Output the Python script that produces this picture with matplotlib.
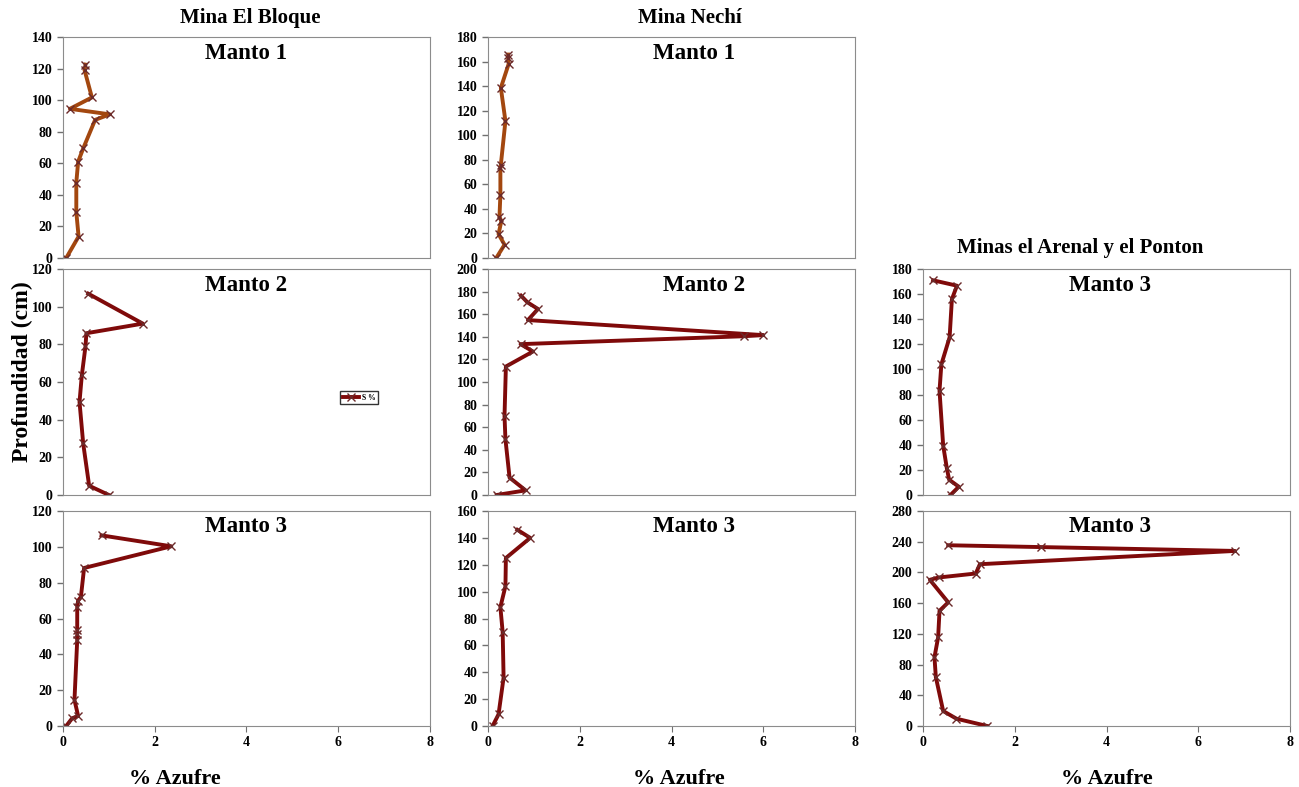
import matplotlib.pyplot as plt

plt.rcParams['font.family'] = ['Liberation Serif', 'DejaVu Serif']
plt.rcParams['font.weight'] = 'bold'

# Mina El Bloque
bloque_m1_s = [0.07, 0.34, 0.29, 0.29, 0.33, 0.44, 0.70, 1.02, 0.15, 0.63, 0.47, 0.49]
bloque_m1_d = [0, 13.6, 29, 47.8, 61, 69.4, 87.5, 91, 94.5, 101.7, 119, 122.5]
bloque_m2_s = [1.0, 0.57, 0.44, 0.36, 0.41, 0.49, 0.51, 1.74, 0.55]
bloque_m2_d = [0, 4.9, 27.4, 49.4, 63.5, 78.9, 85.9, 91, 106.9]
bloque_m3_s = [0.07, 0.20, 0.33, 0.25, 0.31, 0.31, 0.31, 0.31, 0.33, 0.39, 0.46, 2.36, 0.84]
bloque_m3_d = [0, 4.3, 5.6, 14.5, 48, 51.6, 53.5, 66.5, 70, 72, 88.2, 100.3, 106.4]

# Mina Nechi
nechi_m1_s = [0.18, 0.36, 0.23, 0.29, 0.25, 0.27, 0.27, 0.28, 0.38, 0.28, 0.45, 0.44, 0.44]
nechi_m1_d = [0, 10.8, 19.5, 30, 33.6, 51.4, 73.6, 76, 111.5, 138.6, 158, 163, 165.7]
nechi_m2_s = [0.19, 0.82, 0.47, 0.38, 0.36, 0.39, 0.98, 0.71, 5.58, 6.0, 0.87, 1.09, 0.86, 0.72]
nechi_m2_d = [0, 4.1, 15.4, 49.3, 70, 113.7, 127, 133.5, 140.5, 141.5, 154.8, 164.6, 170.5, 176.4]
nechi_m3_s = [0.10, 0.23, 0.34, 0.32, 0.27, 0.38, 0.39, 0.92, 0.64]
nechi_m3_d = [0, 8.7, 36, 69.8, 88.5, 104, 125, 140, 146]

# Minas el Arenal y el Ponton
arenal_a_s = [0.60, 0.78, 0.57, 0.52, 0.44, 0.36, 0.40, 0.58, 0.63, 0.74, 0.22]
arenal_a_d = [0, 6.6, 12.2, 21.2, 39.3, 83, 104, 125.6, 156, 166.7, 171]
arenal_b_s = [1.40, 0.73, 0.44, 0.28, 0.25, 0.33, 0.36, 0.55, 0.15, 0.34, 1.15, 1.24, 6.80, 2.58, 0.55]
arenal_b_d = [0, 9.5, 19.5, 63.6, 89.6, 115.5, 150, 161, 190.4, 193.4, 198.6, 210.7, 228, 233, 235.4]

brown = '#A3470F'
red = '#7F0A0A'

fig = plt.figure(figsize=(12.99, 7.87), dpi=100)

W = 367 / 1299
cols = [63 / 1299, 488 / 1299, 923 / 1299]
rows = [(1 - 258 / 787, 221 / 787), (1 - 495 / 787, 226 / 787), (1 - 726 / 787, 215 / 787)]
xlab_pos = [0.305, 0.52, 0.50]

panels = [
    (0, 0, bloque_m1_s, bloque_m1_d, 140, 20, 'Manto 1', brown, 0.50),
    (0, 1, bloque_m2_s, bloque_m2_d, 120, 20, 'Manto 2', red, 0.50),
    (0, 2, bloque_m3_s, bloque_m3_d, 120, 20, 'Manto 3', red, 0.50),
    (1, 0, nechi_m1_s, nechi_m1_d, 180, 20, 'Manto 1', brown, 0.56),
    (1, 1, nechi_m2_s, nechi_m2_d, 200, 20, 'Manto 2', red, 0.59),
    (1, 2, nechi_m3_s, nechi_m3_d, 160, 20, 'Manto 3', red, 0.56),
    (2, 1, arenal_a_s, arenal_a_d, 180, 20, 'Manto 3', red, 0.51),
    (2, 2, arenal_b_s, arenal_b_d, 280, 40, 'Manto 3', red, 0.51),
]

axes = {}
for c, r, xs, ys, ymax, ystep, label, color, tx in panels:
    b, h = rows[r]
    ax = fig.add_axes([cols[c], b, W, h])
    ax.plot(xs, ys, color=color, lw=2.8, marker='x', ms=6, mew=1,
            mec='#6B2A2A', label='S %')
    ax.set_xlim(0, 8)
    ax.set_ylim(0, ymax)
    ax.set_yticks(range(0, ymax + 1, ystep))
    ax.tick_params(axis='y', direction='out', length=4, labelsize=10, width=1, color='#707070')
    if r == 2:
        ax.set_xticks([0, 2, 4, 6, 8])
        ax.tick_params(axis='x', direction='out', length=4, labelsize=10, color='#707070')
        ax.set_xlabel('% Azufre', fontsize=16, fontweight='bold', labelpad=10)
        ax.xaxis.set_label_coords(xlab_pos[c], -0.2)
    else:
        ax.set_xticks([])
    for s in ax.spines.values():
        s.set_color('#8C8C8C')
    ax.text(tx, 0.975, label, transform=ax.transAxes, ha='center', va='top',
            fontsize=16.5, fontweight='bold', color='black')
    axes[(c, r)] = ax

axes[(0, 1)].legend(loc='upper left', bbox_to_anchor=(0.745, 0.475), fontsize=5.5,
                    handlelength=2.2, frameon=True, fancybox=False, edgecolor='black',
                    borderpad=0.3, handletextpad=0.3)

fig.text(250 / 1299, 1 - 18 / 787, 'Mina El Bloque', ha='center', va='center',
         fontsize=15, fontweight='bold')
fig.text(690 / 1299, 1 - 18 / 787, 'Mina Nechí', ha='center', va='center',
         fontsize=15, fontweight='bold')
fig.text(1080 / 1299, 1 - 248 / 787, 'Minas el Arenal y el Ponton', ha='center', va='center',
         fontsize=15, fontweight='bold')
fig.text(22 / 1299, 1 - 372 / 787, 'Profundidad (cm)', ha='center', va='center',
         rotation=90, fontsize=17, fontweight='bold')

fig.savefig('out.png', dpi=100)
